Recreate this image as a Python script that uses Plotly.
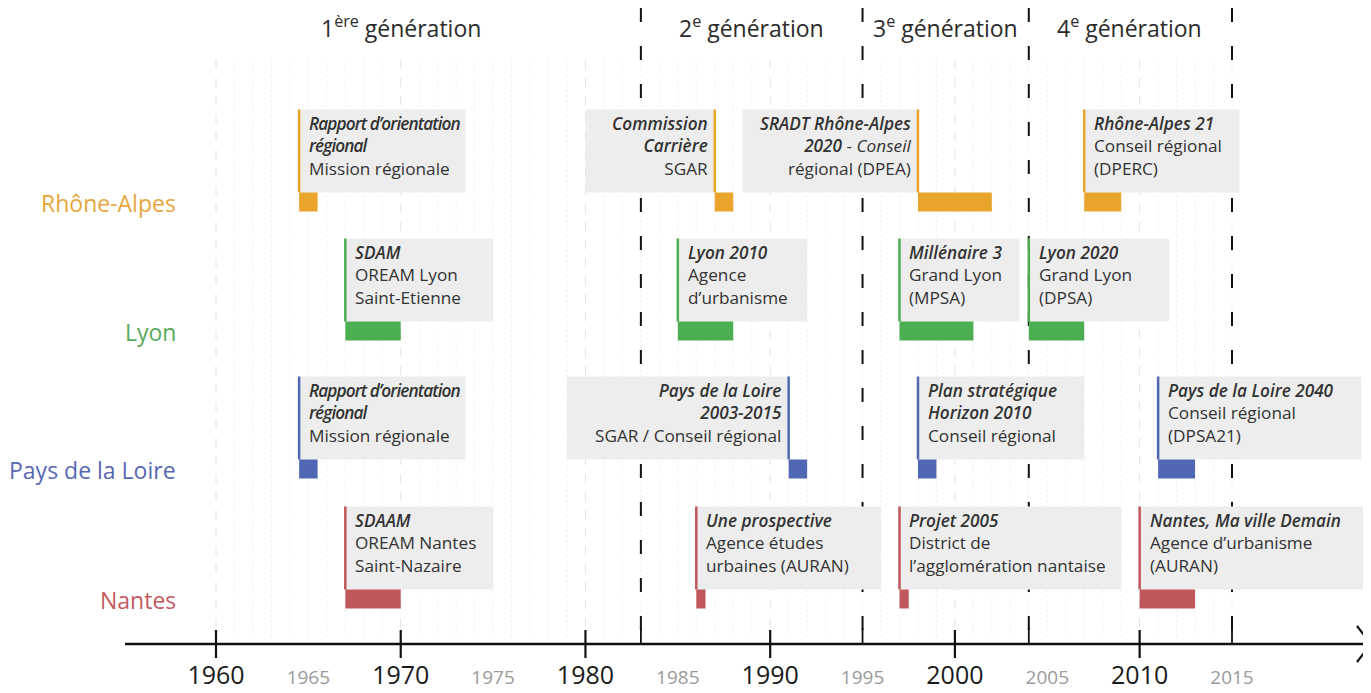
import plotly.graph_objects as go

# ---------------- data ----------------
regions = ["Rhône-Alpes", "Lyon", "Pays de la Loire", "Nantes"]

ev_region = [0, 0, 0, 0,
             1, 1, 1, 1,
             2, 2, 2, 2,
             3, 3, 3, 3]
ev_start = [1964.5, 1987, 1998, 2007,
            1967, 1985, 1997, 2004,
            1964.5, 1991, 1998, 2011,
            1967, 1986, 1997, 2010]
ev_end = [1965.5, 1988, 2002, 2009,
          1970, 1988, 2001, 2007,
          1965.5, 1992, 1999, 2013,
          1970, 1986.5, 1997.5, 2013]
ev_title = [
    ["Rapport d’orientation", "régional"], ["Commission", "Carrière"], ["SRADT Rhône-Alpes", "2020"], ["Rhône-Alpes 21"],
    ["SDAM"], ["Lyon 2010"], ["Millénaire 3"], ["Lyon 2020"],
    ["Rapport d’orientation", "régional"], ["Pays de la Loire", "2003-2015"], ["Plan stratégique", "Horizon 2010"], ["Pays de la Loire 2040"],
    ["SDAAM"], ["Une prospective"], ["Projet 2005"], ["Nantes, Ma ville Demain"],
]
ev_org = [
    ["Mission régionale"], ["SGAR"], ["- <i>Conseil</i>", "régional (DPEA)"], ["Conseil régional", "(DPERC)"],
    ["OREAM Lyon", "Saint-Etienne"], ["Agence", "d’urbanisme"], ["Grand Lyon", "(MPSA)"], ["Grand Lyon", "(DPSA)"],
    ["Mission régionale"], ["SGAR / Conseil régional"], ["Conseil régional"], ["Conseil régional", "(DPSA21)"],
    ["OREAM Nantes", "Saint-Nazaire"], ["Agence études", "urbaines (AURAN)"], ["District de", "l’agglomération nantaise"], ["Agence d’urbanisme", "(AURAN)"],
]

generations = ["1<sup>ère</sup> génération", "2<sup>e</sup> génération",
               "3<sup>e</sup> génération", "4<sup>e</sup> génération"]
generation_bounds = [1983, 1995, 2004, 2015]
tick_years = list(range(1960, 2020, 5))

# ---------------- layout / style ----------------
OFF = 8                           # page body margin in the browser
W, H = 1371 - OFF, 693 - OFF
AX_PX = 644 - OFF                 # pixel row of the time axis (figure coords)
PX_PER_YEAR = 1016 / 55
X0 = 1960 - (216 - OFF) / PX_PER_YEAR
X1 = X0 + W / PX_PER_YEAR

bar_colors = ["#E9A42C", "#4BAE50", "#5068B4", "#C0575B"]
label_colors = ["#E5A73C", "#58AA5C", "#5768B2", "#C25A5D"]
row_center = [202 - OFF, 331 - OFF, 469 - OFF, 599 - OFF]
BAR_H = 19
BOX_H = 83
BOX_FILL = "#EDEDED"
TEXT_COLOR = "#333333"
FONT = "Open Sans"
CONDENSED_TITLES = ["Rapport d’orientation", "régional"]

ev_align = ["left", "right", "right", "left",
            "left", "left", "left", "left",
            "left", "right", "left", "left",
            "left", "left", "left", "left"]
ev_box_edge = [1973.5, 1980, 1988.5, 2015.4,
               1975, 1992, 2003.5, 2011.6,
               1973.5, 1979, 2007, 2022,
               1975, 1996, 2009, 2023.5]
generation_centers = [1970, 1989, 1999.5, 2009.45]


def yr(px):
    """target-page pixel column -> year"""
    return X0 + (px - OFF) / PX_PER_YEAR


def fy(px):
    """target-page pixel row -> figure y coordinate"""
    return px - OFF


def paper_y(px):
    return (AX_PX - fy(px)) / AX_PX


def title_span(t, condensed):
    if condensed:
        return ('<span style="font-weight:600;font-style:italic;letter-spacing:-0.9px">%s</span>' % t)
    return '<span style="font-weight:600;font-style:italic">%s</span>' % t


fig = go.Figure()
shapes = []
annotations = []

# light grid lines
for y in range(1960, 2016):
    if y % 10 == 0:
        shapes.append(dict(type="line", xref="x", yref="y", x0=y, x1=y, y0=fy(60), y1=fy(640),
                           line=dict(color="#E2E2E2", width=1, dash="9px,9px"), layer="below"))
    else:
        shapes.append(dict(type="line", xref="x", yref="y", x0=y, x1=y, y0=fy(60), y1=fy(640),
                           line=dict(color="#EFEFEF", width=1, dash="2px,3px"), layer="below"))

# generation boundaries
for b in generation_bounds:
    shapes.append(dict(type="line", xref="x", yref="y", x0=b, x1=b, y0=fy(8), y1=AX_PX - 2,
                       line=dict(color="#111111", width=2, dash="14px,24px"), layer="below"))

# event boxes, coloured leader lines, texts
for i in range(len(ev_start)):
    r = ev_region[i]
    bar_top = row_center[r] - BAR_H / 2
    box_top = bar_top - BOX_H
    s = ev_start[i]
    if ev_align[i] == "left":
        bx0, bx1 = s, ev_box_edge[i]
    else:
        bx0, bx1 = ev_box_edge[i], s
    shapes.append(dict(type="rect", xref="x", yref="y", x0=bx0, x1=bx1, y0=box_top, y1=bar_top,
                       fillcolor=BOX_FILL, line=dict(width=0), layer="below"))
    shapes.append(dict(type="line", xref="x", yref="y", x0=s, x1=s, y0=box_top, y1=bar_top,
                       line=dict(color=bar_colors[r], width=2.5), layer="above"))
    condensed = ev_title[i] == CONDENSED_TITLES
    lines = [title_span(t, condensed) for t in ev_title[i]]
    org = list(ev_org[i])
    if org and org[0].startswith("- "):
        lines[-1] = lines[-1] + " " + org.pop(0)
    lines += org
    txt = "<br>".join(lines)
    if ev_align[i] == "left":
        annotations.append(dict(x=s + 8 / PX_PER_YEAR, y=box_top, xref="x", yref="y",
                                text=txt, showarrow=False, xanchor="left", yanchor="top",
                                align="left", font=dict(family=FONT, size=17.2, color=TEXT_COLOR)))
    else:
        annotations.append(dict(x=s - 5 / PX_PER_YEAR, y=box_top, xref="x", yref="y",
                                text=txt, showarrow=False, xanchor="right", yanchor="top",
                                align="right", font=dict(family=FONT, size=17.2, color=TEXT_COLOR)))

# bars
for r, name in enumerate(regions):
    idx = [i for i in range(len(ev_start)) if ev_region[i] == r]
    fig.add_trace(go.Bar(
        orientation="h",
        base=[ev_start[i] for i in idx],
        x=[ev_end[i] - ev_start[i] for i in idx],
        y=[row_center[r]] * len(idx),
        width=BAR_H,
        marker=dict(color=bar_colors[r], line=dict(width=0)),
        name=name, showlegend=False, hoverinfo="skip",
    ))
    annotations.append(dict(x=(178 - OFF) / W, y=row_center[r] + 1, xref="paper", yref="y", text=name,
                            showarrow=False, xanchor="right", yanchor="middle",
                            font=dict(family=FONT, size=23, color=label_colors[r])))

# generation headers
for g, c in zip(generations, generation_centers):
    annotations.append(dict(x=c, y=fy(27), xref="x", yref="y", text=g, showarrow=False,
                            xanchor="center", yanchor="middle",
                            font=dict(family=FONT, size=23, color="#2B2B2B")))

# time axis line + arrow + tick marks
shapes.append(dict(type="line", xref="x", yref="paper", x0=yr(125), x1=yr(1370), y0=0, y1=0,
                   line=dict(color="#111111", width=2.5)))
shapes.append(dict(type="line", xref="x", yref="paper", x0=yr(1357), x1=yr(1371), y0=paper_y(626), y1=0,
                   line=dict(color="#111111", width=2.2)))
shapes.append(dict(type="line", xref="x", yref="paper", x0=yr(1357), x1=yr(1371), y0=paper_y(662), y1=0,
                   line=dict(color="#111111", width=2.2)))
for y in range(1960, 2020, 10):
    shapes.append(dict(type="line", xref="x", yref="paper", x0=y, x1=y, y0=paper_y(630), y1=paper_y(658),
                       line=dict(color="#111111", width=2.2)))
for b in generation_bounds:
    shapes.append(dict(type="line", xref="x", yref="paper", x0=b, x1=b, y0=paper_y(628), y1=0,
                       line=dict(color="#111111", width=1.8)))

ticktext = []
for t in tick_years:
    if t % 10 == 0:
        ticktext.append(str(t))
    else:
        ticktext.append('<span style="font-size:19px;fill:#9A9A9A">%d</span>' % t)

fig.update_layout(
    width=W, height=H,
    margin=dict(l=0, r=0, t=0, b=H - AX_PX, autoexpand=False),
    paper_bgcolor="white", plot_bgcolor="white",
    barmode="overlay",
    shapes=shapes, annotations=annotations,
    xaxis=dict(range=[X0, X1], showgrid=False, zeroline=False, showline=False,
               automargin=False,
               tickmode="array", tickvals=tick_years, ticktext=ticktext, ticks="",
               ticklabelstandoff=14,
               tickfont=dict(family=FONT, size=25, color="#1A1A1A"), fixedrange=True),
    yaxis=dict(range=[AX_PX, 0], visible=False, fixedrange=True, automargin=False),
    font=dict(family=FONT),
)

fig.write_html("out.html")
